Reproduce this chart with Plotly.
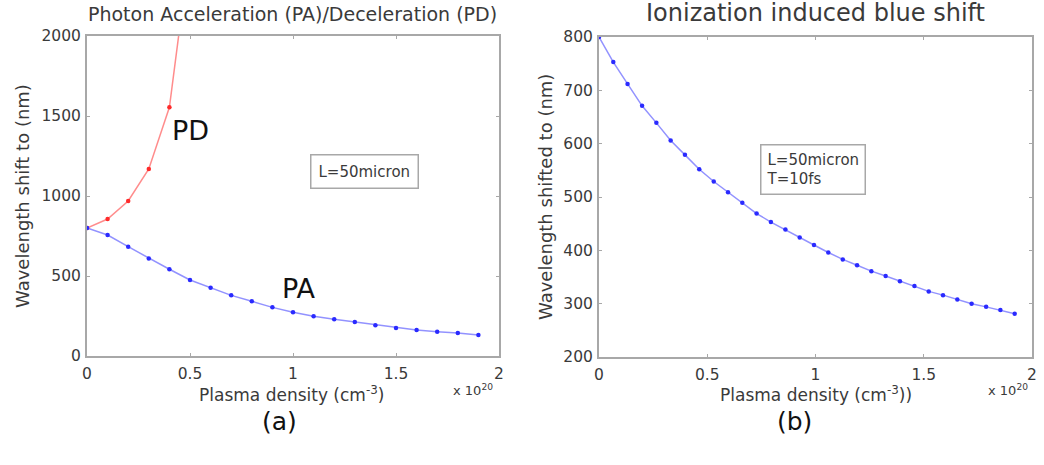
import plotly.graph_objects as go

# Panel (a): photon acceleration / deceleration, plasma density in units of 1e20 cm^-3
density_a = [0.0, 0.1, 0.2, 0.3, 0.4, 0.5, 0.6, 0.7, 0.8, 0.9,
             1.0, 1.1, 1.2, 1.3, 1.4, 1.5, 1.6, 1.7, 1.8, 1.9]
pa_wavelength = [800, 756, 683, 610, 542, 475, 427, 379, 342, 304,
                 273, 248, 229, 212, 192, 175, 162, 152, 144, 131]
density_pd = [0.0, 0.1, 0.2, 0.3, 0.4, 0.5]
pd_wavelength = [800, 856, 969, 1169, 1554, 2550]

# Panel (b): ionization induced blue shift
density_b = [0.0, 0.066, 0.132, 0.199, 0.265, 0.331, 0.397, 0.463, 0.530, 0.596,
             0.662, 0.728, 0.794, 0.861, 0.927, 0.993, 1.059, 1.126, 1.192, 1.258,
             1.324, 1.390, 1.457, 1.523, 1.589, 1.655, 1.721, 1.788, 1.854, 1.920]
blue_wavelength = [800, 753, 712, 671, 639, 606, 579, 552, 529, 509,
                   489, 469, 453, 439, 424, 410, 396, 383, 372, 361,
                   352, 342, 333, 323, 316, 308, 300, 294, 288, 281]

x_ticks = [0, 0.5, 1, 1.5, 2]
x_tick_text = ["0", "0.5", "1", "1.5", "2"]
ya_ticks = [0, 500, 1000, 1500, 2000]
yb_ticks = [200, 300, 400, 500, 600, 700, 800]

W, H = 1044, 465
FONT = "DejaVu Sans, Liberation Sans, Arial, sans-serif"
AX_GREY = "#a8a8a8"
TXT = "#3a3a3a"

BLUE_LINE = "rgba(110,110,255,0.75)"
BLUE_MARK = "#2a2aff"
RED_LINE = "rgba(255,120,120,0.85)"
RED_MARK = "#ff2a2a"


def px_x(p):
    return p / W


def px_y(p):
    return 1 - p / H


fig = go.Figure()

fig.add_trace(go.Scatter(
    x=density_pd, y=pd_wavelength, mode="lines+markers",
    line=dict(color=RED_LINE, width=1.5),
    marker=dict(color=RED_MARK, size=4.5, symbol="circle"),
    xaxis="x", yaxis="y", showlegend=False))
fig.add_trace(go.Scatter(
    x=density_a, y=pa_wavelength, mode="lines+markers",
    line=dict(color=BLUE_LINE, width=1.5),
    marker=dict(color=BLUE_MARK, size=4.5, symbol="circle"),
    xaxis="x", yaxis="y", showlegend=False))
fig.add_trace(go.Scatter(
    x=density_b, y=blue_wavelength, mode="lines+markers",
    line=dict(color=BLUE_LINE, width=1.5),
    marker=dict(color=BLUE_MARK, size=4.5, symbol="circle"),
    xaxis="x2", yaxis="y2", showlegend=False))

axis_common = dict(
    showline=True, linecolor=AX_GREY, linewidth=2, mirror="allticks",
    ticks="inside", ticklen=3, tickcolor=AX_GREY, tickwidth=1,
    showgrid=False, zeroline=False, automargin=False,
    tickfont=dict(family=FONT, size=15.5, color=TXT),
)

fig.update_layout(
    width=W, height=H,
    margin=dict(l=0, r=0, t=0, b=0, pad=0, autoexpand=False),
    paper_bgcolor="white", plot_bgcolor="white",
    font=dict(family=FONT, color=TXT),
    xaxis=dict(domain=[px_x(87), px_x(499)], range=[0, 2], ticklabelstandoff=2,
               tickvals=x_ticks, ticktext=x_tick_text, anchor="y", **axis_common),
    yaxis=dict(domain=[px_y(356), px_y(36)], range=[0, 2000], ticklabelstandoff=1,
               tickvals=ya_ticks, anchor="x", **axis_common),
    xaxis2=dict(domain=[px_x(599), px_x(1032)], range=[0, 2], ticklabelstandoff=2,
                tickvals=x_ticks, ticktext=x_tick_text, anchor="y2", **axis_common),
    yaxis2=dict(domain=[px_y(357), px_y(37)], range=[200, 800], ticklabelstandoff=1,
                tickvals=yb_ticks, anchor="x2", **axis_common),
)


def paper_note(text, x, y, size, xanchor="center", yanchor="middle", angle=0, color=TXT):
    fig.add_annotation(
        text=text, x=px_x(x), y=px_y(y), xref="paper", yref="paper",
        xanchor=xanchor, yanchor=yanchor, showarrow=False, textangle=angle,
        font=dict(family=FONT, size=size, color=color))


# Titles
paper_note("Photon Acceleration (PA)/Deceleration (PD)", 292, 14, 19)
paper_note("Ionization induced blue shift", 815, 13, 24)

# Axis titles
paper_note("Wavelength shift to (nm)", 22, 196, 18, angle=-90)
paper_note("Wavelength shifted to (nm)", 546, 197, 18, angle=-90)
paper_note("Plasma density (cm<sup>-3</sup>)", 291, 394, 17)
paper_note("Plasma density (cm<sup>-3</sup>))", 816, 394, 17)
paper_note("x 10<sup>20</sup>", 473, 390, 13)
paper_note("x 10<sup>20</sup>", 1008, 390, 13)

# Panel labels
paper_note("(a)", 279, 421, 25, color="#111111")
paper_note("(b)", 794, 421, 25, color="#111111")

# Curve labels in panel (a)
fig.add_annotation(text="PD", x=0.5, y=1410, xref="x", yref="y", showarrow=False,
                   font=dict(family=FONT, size=27, color="#111111"))
fig.add_annotation(text="PA", x=1.03, y=420, xref="x", yref="y", showarrow=False,
                   font=dict(family=FONT, size=27, color="#111111"))

# Parameter boxes
fig.add_annotation(text="L=50micron", x=px_x(310), y=px_y(154), xref="paper", yref="paper",
                   showarrow=False, bordercolor=AX_GREY, borderwidth=1.5, borderpad=7,
                   bgcolor="white", font=dict(family=FONT, size=15, color=TXT))
fig.add_annotation(text="L=50micron<br>T=10fs", x=px_x(866), y=px_y(144), xref="paper", yref="paper",
                   showarrow=False, align="left", bordercolor=AX_GREY, borderwidth=1.5, borderpad=5,
                   bgcolor="white", font=dict(family=FONT, size=15, color=TXT))

fig.write_html("out.html")
